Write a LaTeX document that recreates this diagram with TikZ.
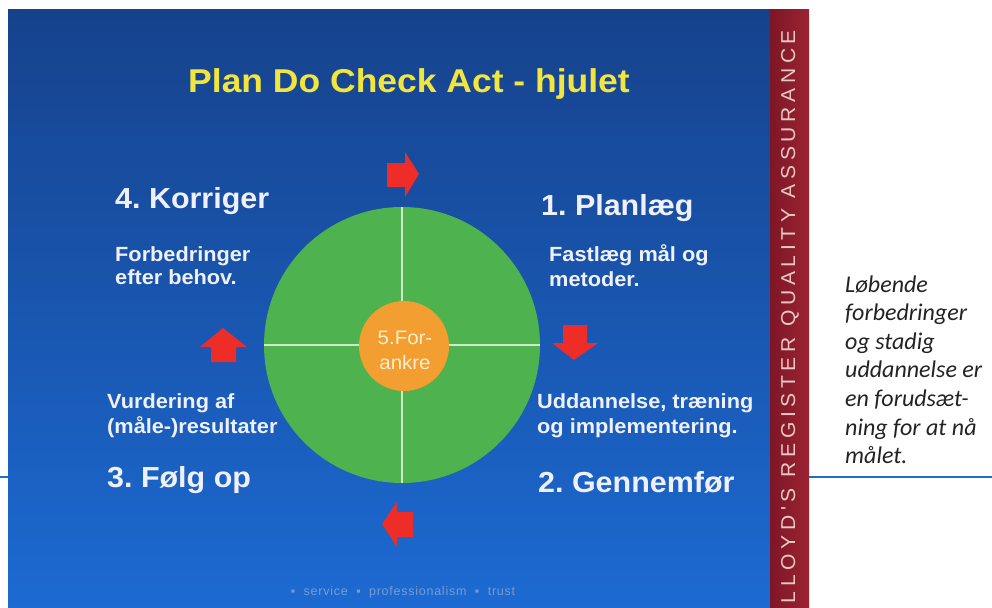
\documentclass[tikz,border=0pt]{standalone}
\usepackage{fontspec}
\usepackage{graphicx}
\setmainfont{Liberation Sans}
\frenchspacing
\newfontfamily\slidefont[FakeStretch=1.05]{Liberation Sans}
\newfontfamily\captionfont[FakeStretch=1.06]{Liberation Sans}
\newfontfamily\titlefont[FakeStretch=1.075]{Liberation Sans}
\newfontfamily\notefont{Carlito}
\newfontfamily\bandfont[LetterSpace=22]{Liberation Sans}
\newfontfamily\footerfont[LetterSpace=6]{Liberation Sans}
\definecolor{slidetop}{RGB}{22,66,140}
\definecolor{slidebottom}{RGB}{28,106,210}
\definecolor{bandleft}{RGB}{125,22,38}
\definecolor{bandright}{RGB}{155,36,50}
\definecolor{bandtext}{RGB}{232,200,194}
\definecolor{greencirc}{RGB}{78,178,78}
\definecolor{orangecirc}{RGB}{243,158,48}
\definecolor{crossline}{RGB}{205,235,195}
\definecolor{arrowred}{RGB}{238,45,40}
\definecolor{slidetext}{RGB}{240,240,250}
\definecolor{titleyellow}{RGB}{242,230,62}
\definecolor{footertext}{RGB}{120,155,210}
\definecolor{notetext}{RGB}{35,35,35}
\definecolor{blueline}{RGB}{30,110,205}
\definecolor{centertext}{RGB}{255,238,205}
\begin{document}
\begin{tikzpicture}[x=1pt,y=-1pt,
  heading/.style={anchor=base west, inner sep=0pt, text=slidetext,
    font=\slidefont\bfseries\fontsize{29}{34}\selectfont},
  caption/.style={anchor=base west, inner sep=0pt, text=slidetext,
    font=\captionfont\bfseries\fontsize{20.5}{25}\selectfont},
  noteline/.style={anchor=base west, inner sep=0pt, text=notetext,
    font=\notefont\itshape\fontsize{24}{28}\selectfont},
  centerline/.style={anchor=base, inner sep=0pt, text=centertext,
    font=\slidefont\fontsize{19.5}{22}\selectfont},
  redarrow/.style={fill=arrowred}]
\useasboundingbox (0,0) rectangle (992,607);
\fill[white] (0,0) rectangle (992,607);
% slide background and side band
\shade[top color=slidetop, bottom color=slidebottom] (8,10) rectangle (770,607);
\shade[left color=bandleft, right color=bandright] (770,10) rectangle (809,607);
\node[rotate=90, inner sep=0pt, text=bandtext] (band) at (790,316.5)
  {\resizebox{573pt}{14pt}{\bandfont LLOYD'S REGISTER QUALITY ASSURANCE}};
% blue rule lines
\coordinate (lineL0) at (0,477);
\coordinate (lineL1) at (8,477);
\coordinate (lineR0) at (809,477);
\coordinate (lineR1) at (992,477);
\draw[blueline, line width=2pt] (lineL0) -- (lineL1);
\draw[blueline, line width=2pt] (lineR0) -- (lineR1);
% title
\node[anchor=base, inner sep=0pt, text=titleyellow,
  font=\titlefont\bfseries\fontsize{33}{38}\selectfont] (title) at (409,93)
  {Plan Do Check Act - hjulet};
% wheel
\fill[greencirc] (402,345) circle (138);
\coordinate (wheelN) at (402,207);
\coordinate (wheelS) at (402,483);
\coordinate (wheelW) at (264,345);
\coordinate (wheelE) at (540,345);
\draw[crossline, line width=1.3pt] (wheelN) -- (wheelS);
\draw[crossline, line width=1.3pt] (wheelW) -- (wheelE);
\fill[orangecirc] (404,346) circle (45);
\node[centerline] (center1) at (405,344) {5.For-};
\node[centerline] (center2) at (405,369) {ankre};
% arrows
\fill[redarrow] (387,163) -- (405,163) -- (405,152) -- (419,174) -- (405,197) -- (405,187) -- (387,187) -- cycle;
\fill[redarrow] (563,325) -- (587,325) -- (587,343) -- (598,343) -- (574,360) -- (552,343) -- (563,343) -- cycle;
\fill[redarrow] (413,512) -- (397,512) -- (397,502) -- (382,524) -- (397,547) -- (397,537) -- (413,537) -- cycle;
\fill[redarrow] (211,362) -- (211,347) -- (200,347) -- (223,328) -- (247,347) -- (236,347) -- (236,362) -- cycle;
% headings
\node[heading] (korriger) at (115,208) {4. Korriger};
\node[heading] (planlaeg) at (541,215) {1. Planlæg};
\node[heading] (folgop) at (107,487) {3. Følg op};
\node[heading] (gennemfor) at (538,492) {2. Gennemfør};
% captions
\node[caption] (korA) at (115,261) {Forbedringer};
\node[caption] (korB) at (115,284) {efter behov.};
\node[caption] (planA) at (549,261) {Fastlæg mål og};
\node[caption] (planB) at (549,286) {metoder.};
\node[caption] (folA) at (107,408) {Vurdering af};
\node[caption] (folB) at (107,433) {(måle-)resultater};
\node[caption] (genA) at (537,408) {Uddannelse, træning};
\node[caption] (genB) at (537,433) {og implementering.};
% footer
\node[anchor=base, inner sep=0pt, text=footertext,
  font=\footerfont\fontsize{12.5}{14}\selectfont] (footer) at (403,595)
  {▪\ \ service\ \ ▪\ \ professionalism\ \ ▪\ \ trust};
% side note
\node[noteline] (note1) at (845,292) {Løbende};
\node[noteline] (note2) at (845,320.6) {forbedringer};
\node[noteline] (note3) at (845,349.2) {og stadig};
\node[noteline] (note4) at (845,377.8) {uddannelse er};
\node[noteline] (note5) at (845,406.4) {en forudsæt-};
\node[noteline] (note6) at (845,435) {ning for at nå};
\node[noteline] (note7) at (845,463.6) {målet.};
\end{tikzpicture}
\end{document}
